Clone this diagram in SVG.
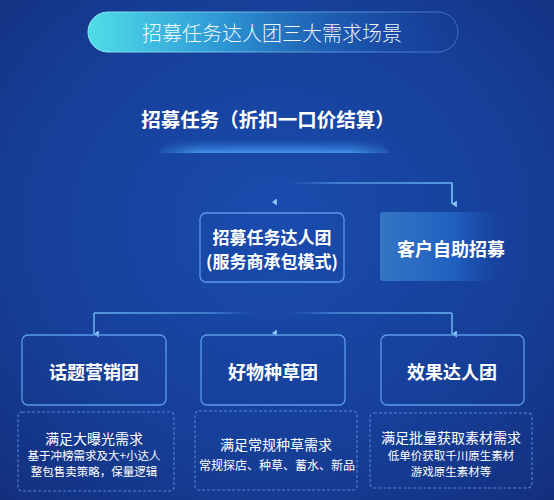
<svg xmlns="http://www.w3.org/2000/svg" width="554" height="500" viewBox="0 0 554 500">
<defs>
<radialGradient id="bg" cx="0.5" cy="0.45" r="0.75">
<stop offset="0" stop-color="#1a4cae"/>
<stop offset="0.6" stop-color="#163f98"/>
<stop offset="1" stop-color="#132f7c"/>
</radialGradient>
<linearGradient id="pill" x1="0" y1="0" x2="1" y2="0">
<stop offset="0" stop-color="#4fdde8"/>
<stop offset="0.35" stop-color="#2f9ad6"/>
<stop offset="0.75" stop-color="#1d5cb4" stop-opacity="0.6"/>
<stop offset="1" stop-color="#1a4aa6" stop-opacity="0"/>
</linearGradient>
<linearGradient id="pillStroke" x1="0" y1="0" x2="1" y2="0">
<stop offset="0" stop-color="#8fe8f5"/>
<stop offset="1" stop-color="#5c8fe0" stop-opacity="0.6"/>
</linearGradient>
<linearGradient id="glow" x1="0" y1="0" x2="0" y2="1">
<stop offset="0" stop-color="#2a6bd0" stop-opacity="0"/>
<stop offset="0.7" stop-color="#3a88e0" stop-opacity="0.7"/>
<stop offset="1" stop-color="#4aa0f0" stop-opacity="0.9"/>
</linearGradient>
<linearGradient id="glowH" x1="0" y1="0" x2="1" y2="0">
<stop offset="0" stop-color="#fff" stop-opacity="0"/>
<stop offset="0.2" stop-color="#fff" stop-opacity="1"/>
<stop offset="0.8" stop-color="#fff" stop-opacity="1"/>
<stop offset="1" stop-color="#fff" stop-opacity="0"/>
</linearGradient>
<mask id="glowMask"><rect x="150" y="130" width="250" height="30" fill="url(#glowH)"/></mask>
<linearGradient id="self" x1="0" y1="0" x2="1" y2="0">
<stop offset="0" stop-color="#3475c4"/>
<stop offset="0.6" stop-color="#2160c0"/>
<stop offset="1" stop-color="#1a4cae" stop-opacity="0"/>
</linearGradient>
<linearGradient id="lineL" gradientUnits="userSpaceOnUse" x1="94" y1="0" x2="255" y2="0">
<stop offset="0" stop-color="#6ab4f2"/>
<stop offset="0.7" stop-color="#5aa0e8" stop-opacity="0.8"/>
<stop offset="1" stop-color="#4a90e0" stop-opacity="0"/>
</linearGradient>
<linearGradient id="lineR" gradientUnits="userSpaceOnUse" x1="287" y1="0" x2="452" y2="0">
<stop offset="0" stop-color="#4a90e0" stop-opacity="0"/>
<stop offset="0.3" stop-color="#5aa0e8" stop-opacity="0.8"/>
<stop offset="1" stop-color="#6ab4f2"/>
</linearGradient>
<linearGradient id="lineV" x1="0" y1="0" x2="0" y2="1">
<stop offset="0" stop-color="#6ab4f2" stop-opacity="0.2"/>
<stop offset="1" stop-color="#8cc8f8"/>
</linearGradient>
<marker id="arr" viewBox="0 0 10 10" refX="5" refY="9" markerWidth="7" markerHeight="7" orient="auto-start-reverse" markerUnits="userSpaceOnUse">
<path d="M0,2 L10,2 L5,9 Z" fill="#8cc8f8"/>
</marker>
<style>
.t{font-family:"Noto Sans CJK SC","Noto Sans",sans-serif;fill:#ffffff;text-anchor:middle;dominant-baseline:central}
.b{font-weight:700}
.box{fill:none;stroke:#5b9ae8;stroke-width:1.3}
.dash{fill:none;stroke:#4f84d8;stroke-width:1.1;stroke-dasharray:3 2}
.ln{fill:none;stroke-width:1.5}
</style>
</defs>
<rect width="554" height="500" fill="url(#bg)"/>

<g id="title">
<rect x="88" y="12" width="370" height="40" rx="20" fill="url(#pill)" stroke="url(#pillStroke)" stroke-width="1"/>
<text class="t" x="272" y="32" font-size="20" font-weight="300" fill-opacity="0.95">招募任务达人团三大需求场景</text>
</g>

<g id="root">
<path d="M157,153 L172,139 L376,139 L391,153 Z" fill="url(#glow)" mask="url(#glowMask)"/>
<text class="t b" x="268" y="118" font-size="19.5">招募任务（折扣一口价结算）</text>
</g>

<g id="connectors">
<line class="ln" x1="272" y1="162" x2="272" y2="202" stroke="url(#lineV)" marker-end="url(#arr)"/>
<polyline class="ln" points="287,183 452,183 452,204" stroke="url(#lineR)"/>
<line class="ln" x1="452" y1="183" x2="452" y2="204" stroke="#6ab4f2" marker-end="url(#arr)"/>
<line class="ln" x1="272" y1="295" x2="272" y2="333" stroke="url(#lineV)" marker-end="url(#arr)"/>
<line class="ln" x1="94" y1="313" x2="255" y2="313" stroke="url(#lineL)"/>
<line class="ln" x1="94" y1="313" x2="94" y2="334" stroke="#6ab4f2" marker-end="url(#arr)"/>
<line class="ln" x1="289" y1="313" x2="452" y2="313" stroke="url(#lineR)"/>
<line class="ln" x1="452" y1="313" x2="452" y2="334" stroke="#6ab4f2" marker-end="url(#arr)"/>
</g>

<g id="team">
<rect class="box" x="200" y="213" width="144" height="69" rx="6"/>
<text class="t b" x="272" y="236" font-size="17">招募任务达人团</text>
<text class="t b" x="272" y="260" font-size="17">(服务商承包模式)</text>
</g>

<g id="self-service">
<rect x="380" y="212" width="124" height="69" rx="3" fill="url(#self)"/>
<text class="t b" x="451" y="248" font-size="18">客户自助招募</text>
</g>

<g id="topic">
<rect class="box" x="22" y="335" width="144" height="70" rx="6"/>
<text class="t b" x="94" y="371" font-size="18">话题营销团</text>
</g>
<g id="topic-desc">
<rect class="dash" x="18" y="412" width="156" height="79" rx="4"/>
<text class="t" x="94" y="438" font-size="14">满足大曝光需求</text>
<text class="t" x="94" y="455" font-size="11.5">基于冲榜需求及大+小达人</text>
<text class="t" x="94" y="471" font-size="11.5">整包售卖策略，保量逻辑</text>
</g>

<g id="seeding">
<rect class="box" x="201" y="335" width="144" height="70" rx="6"/>
<text class="t b" x="273" y="371" font-size="18">好物种草团</text>
</g>
<g id="seeding-desc">
<rect class="dash" x="195" y="411" width="162" height="79" rx="4"/>
<text class="t" x="276" y="444" font-size="14">满足常规种草需求</text>
<text class="t" x="277" y="464" font-size="12">常规探店、种草、蓄水、新品</text>
</g>

<g id="effect">
<rect class="box" x="381" y="335" width="143" height="70" rx="6"/>
<text class="t b" x="452" y="371" font-size="18">效果达人团</text>
</g>
<g id="effect-desc">
<rect class="dash" x="370" y="413" width="162" height="75" rx="4"/>
<text class="t" x="451" y="437" font-size="14">满足批量获取素材需求</text>
<text class="t" x="451" y="455" font-size="11.5">低单价获取千川原生素材</text>
<text class="t" x="451" y="471" font-size="11.5">游戏原生素材等</text>
</g>
</svg>
